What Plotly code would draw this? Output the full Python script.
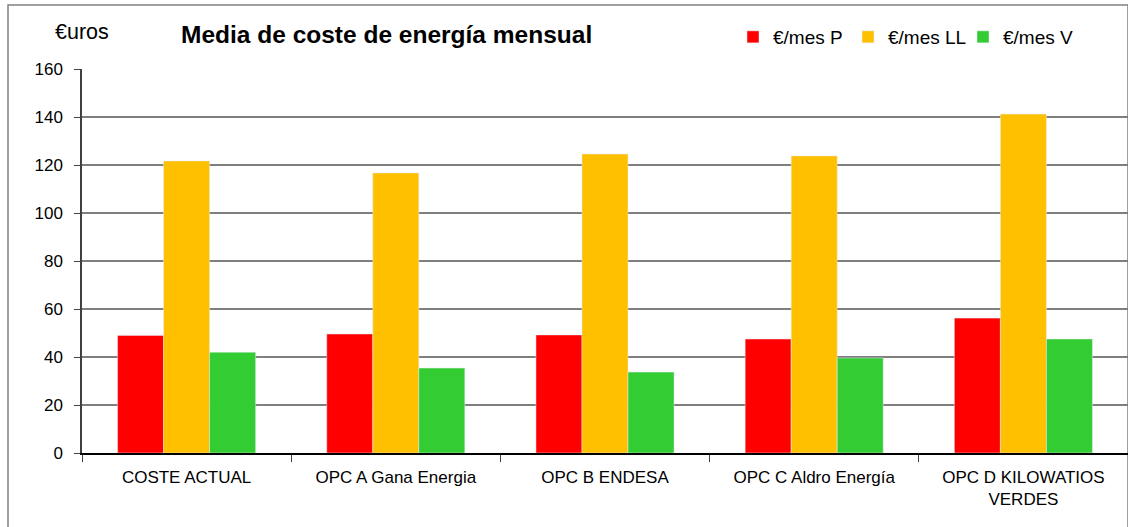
import plotly.graph_objects as go

categorias = ["COSTE ACTUAL", "OPC A Gana Energia", "OPC B ENDESA",
              "OPC C Aldro Energía", "OPC D KILOWATIOS<br>VERDES"]
mes_p = [49, 49.6, 49.2, 47.5, 56.2]
mes_ll = [121.7, 116.7, 124.6, 123.8, 141.2]
mes_v = [42, 35.4, 33.7, 39.6, 47.5]

fig = go.Figure()
fig.add_trace(go.Bar(x=categorias, y=mes_p, name="€/mes P", marker_color="#FF0000"))
fig.add_trace(go.Bar(x=categorias, y=mes_ll, name="€/mes LL", marker_color="#FFC000"))
fig.add_trace(go.Bar(x=categorias, y=mes_v, name="€/mes V", marker_color="#33CC33"))

fig.update_layout(
    width=1128, height=527,
    margin=dict(l=82, r=0, t=69, b=74, autoexpand=False),
    paper_bgcolor="white", plot_bgcolor="white",
    font=dict(family="Liberation Sans, Arial", color="#000000"),
    barmode="group", bargap=0.34, bargroupgap=0,
    title=dict(text="<b>Media de coste de energía mensual</b>",
               x=181/1128, xanchor="left", y=1-34/527, yanchor="middle",
               font=dict(size=24.5)),
    legend=dict(orientation="h", x=(733-82)/1046, xref="paper", xanchor="left",
                y=1+32/384, yanchor="middle", font=dict(size=19),
                itemwidth=30, entrywidth=70, traceorder="normal",
                bgcolor="rgba(0,0,0,0)"),
    showlegend=True,
)
fig.update_yaxes(range=[0, 160], dtick=20, showgrid=True, gridcolor="#7f7f7f", gridwidth=1.5,
                 showline=True, linecolor="#404040", linewidth=1.5,
                 ticks="outside", ticklen=6, tickcolor="#404040",
                 ticklabelstandoff=8, tickfont=dict(size=17), zeroline=False)
fig.update_xaxes(showline=True, linecolor="#000000", linewidth=1.5,
                 ticks="outside", tickson="boundaries", ticklen=7, tickcolor="#404040",
                 ticklabelstandoff=8, tickfont=dict(size=17))

fig.add_annotation(text="€uros", xref="paper", yref="paper",
                   x=0, y=1+37/384, showarrow=False,
                   font=dict(size=21.5), xanchor="center", yanchor="middle")
fig.add_shape(type="rect", xref="paper", yref="paper",
              x0=-74/1046, x1=1.0, y0=-0.2, y1=1+64/384,
              line=dict(color="#808080", width=1.5), layer="below")

# the page body has an 8px default margin; drop it so the figure fills the window
fig.write_html("out.html", config={"displayModeBar": False},
               post_script="document.body.style.margin='0';")
